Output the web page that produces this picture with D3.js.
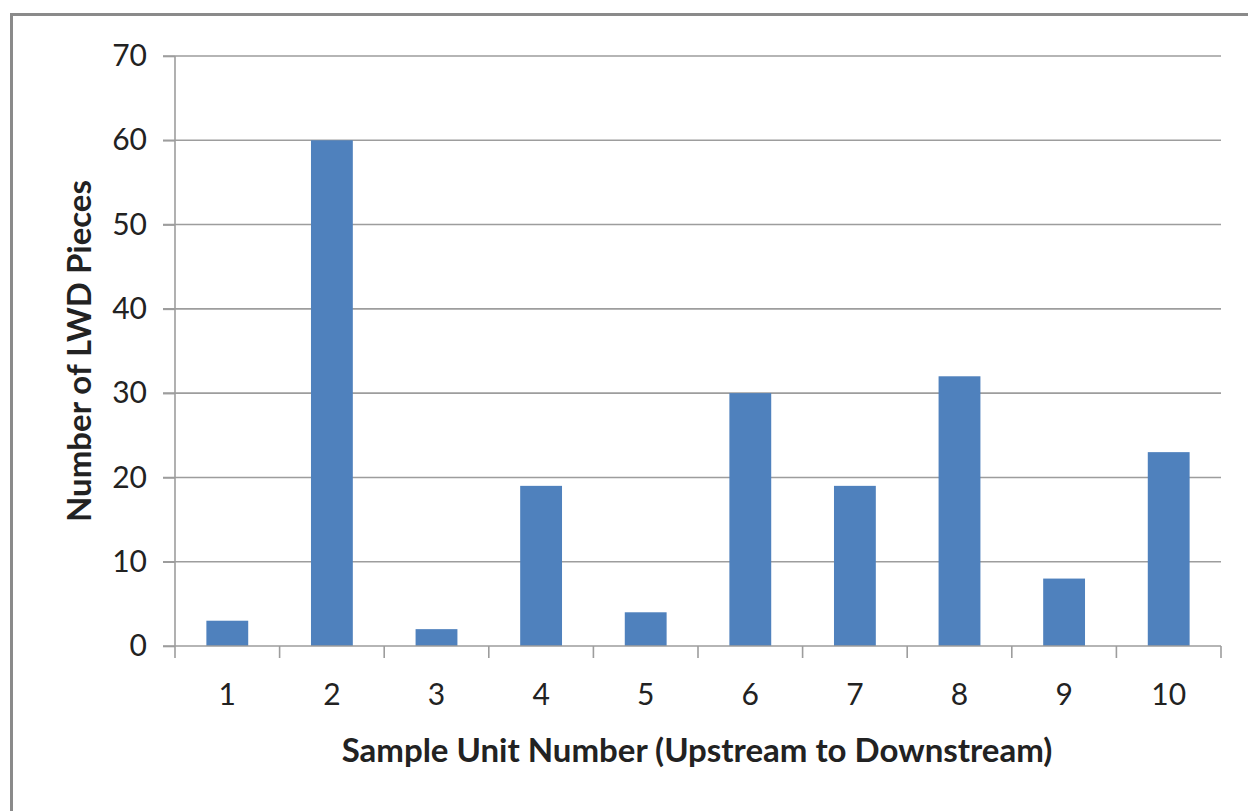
<!DOCTYPE html>
<html>
<head>
<meta charset="utf-8">
<script src="https://cdn.jsdelivr.net/npm/d3@7"></script>
<style>
  html, body { margin: 0; padding: 0; background: #fff; }
  svg { display: block; }
  text { font-family: Lato, "Open Sans", sans-serif; fill: #222; }
</style>
</head>
<body>
<svg id="chart" width="1248" height="811"></svg>
<script>
// Large woody debris counts per sample unit
const units = ["1", "2", "3", "4", "5", "6", "7", "8", "9", "10"];
const pieces = [3, 60, 2, 19, 4, 30, 19, 32, 8, 23];
const yTicks = [0, 10, 20, 30, 40, 50, 60, 70];
const xTitle = "Sample Unit Number (Upstream to Downstream)";
const yTitle = "Number of LWD Pieces";

const svg = d3.select("#chart");
const W = 1248, H = 811;
const plot = { left: 175, right: 1221, top: 56, bottom: 646 };

// Outer frame
svg.append("rect")
  .attr("x", 11.5).attr("y", 14.5)
  .attr("width", W).attr("height", H)
  .attr("fill", "none").attr("stroke", "#8a8a8a").attr("stroke-width", 3);

const x = d3.scaleBand().domain(units)
  .range([plot.left, plot.right]).paddingInner(0.6).paddingOuter(0.3);
const xEdge = d3.scaleBand().domain(units).range([plot.left, plot.right]);
const y = d3.scaleLinear().domain([0, 70]).range([plot.bottom, plot.top]);

// Gridlines with left tick stubs
svg.append("g").selectAll("line").data(yTicks.filter(d => d > 0)).join("line")
  .attr("x1", plot.left - 12).attr("x2", plot.right)
  .attr("y1", d => y(d)).attr("y2", d => y(d))
  .attr("stroke", "#9d9d9d").attr("stroke-width", 1.6);

// Y axis
const yAxis = svg.append("g")
  .attr("transform", `translate(${plot.left},0)`)
  .call(d3.axisLeft(y).tickValues(yTicks).tickSize(12).tickPadding(16));
yAxis.selectAll("line, path").attr("stroke", "#9d9d9d").attr("stroke-width", 1.6);
yAxis.select(".domain").attr("d", `M0,${plot.top}V${plot.bottom}`);
yAxis.selectAll("text").style("font-size", "30px").style("font-family", "Lato, sans-serif").attr("fill", "#222");

// Bars
svg.append("g").selectAll("rect").data(pieces).join("rect")
  .attr("x", (d, i) => x(units[i]))
  .attr("width", x.bandwidth())
  .attr("y", d => y(d))
  .attr("height", d => y(0) - y(d))
  .attr("fill", "#4f81bd");

// X axis baseline and category dividers
const xg = svg.append("g");
xg.append("line")
  .attr("x1", plot.left - 12).attr("x2", plot.right)
  .attr("y1", plot.bottom).attr("y2", plot.bottom)
  .attr("stroke", "#9d9d9d").attr("stroke-width", 1.6);
const edges = units.map(u => xEdge(u)).concat([plot.right]);
xg.selectAll("line.tick").data(edges).join("line").attr("class", "tick")
  .attr("x1", d => d).attr("x2", d => d)
  .attr("y1", plot.bottom).attr("y2", plot.bottom + 12)
  .attr("stroke", "#9d9d9d").attr("stroke-width", 1.6);
xg.selectAll("text").data(units).join("text")
  .attr("x", d => xEdge(d) + xEdge.bandwidth() / 2)
  .attr("y", 705)
  .attr("text-anchor", "middle")
  .style("font-size", "30px")
  .text(d => d);

// Axis titles
svg.append("text")
  .attr("x", 697).attr("y", 762)
  .attr("text-anchor", "middle")
  .style("font-size", "33px").style("font-weight", "bold")
  .attr("fill", "#111")
  .text(xTitle);
svg.append("text")
  .attr("transform", "translate(91,351) rotate(-90)")
  .attr("text-anchor", "middle")
  .style("font-size", "33px").style("font-weight", "bold")
  .attr("fill", "#111")
  .text(yTitle);
</script>
</body>
</html>
